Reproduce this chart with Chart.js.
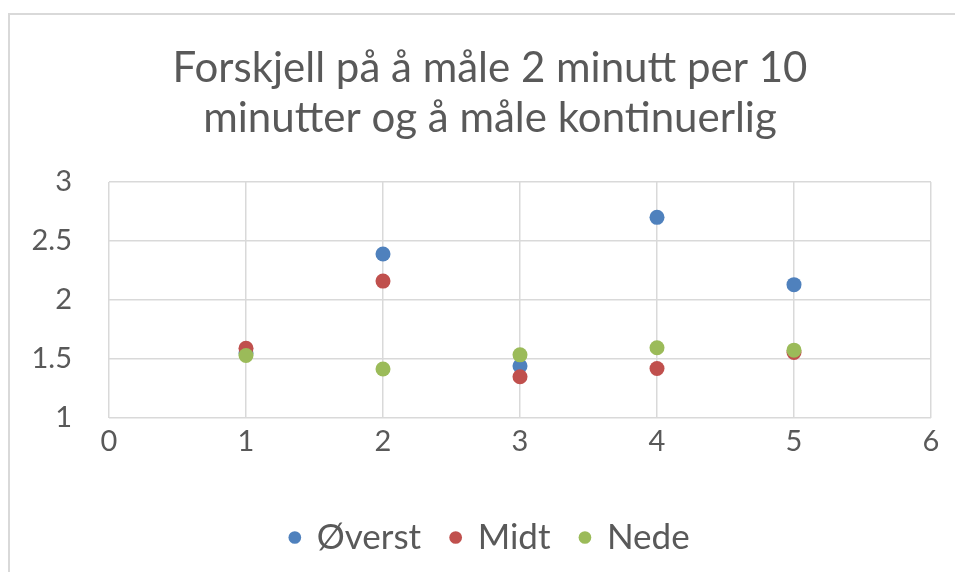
<!DOCTYPE html>
<html>
<head>
<meta charset="utf-8">
<script src="https://cdn.jsdelivr.net/npm/chart.js@4"></script>
<style>
  html, body { margin: 0; padding: 0; overflow: hidden; background: #fff; }
  #wrap { position: relative; width: 980px; height: 572px; }
  #frame { position: absolute; left: 8px; top: 13px; right: -10px; bottom: -10px;
           border-left: 2px solid #d9d9d9; border-top: 2px solid #d9d9d9; }
  canvas { position: absolute; left: 0; top: 0; }
</style>
</head>
<body>
<div id="wrap">
  <div id="frame"></div>
  <canvas id="chart" width="980" height="572"></canvas>
</div>
<script>
// Values
const xValues = [1, 2, 3, 4, 5];
const overst  = [1.55, 2.39, 1.44, 2.70, 2.13];
const midt    = [1.59, 2.16, 1.35, 1.42, 1.555];
const nede    = [1.53, 1.415, 1.535, 1.595, 1.575];
const titleLines = ['Forskjell på å måle 2 minutt per 10', 'minutter og å måle kontinuerlig'];

const FONT = 'Lato, "Open Sans", sans-serif';
const TEXT = '#595959';
const GRID = '#d9d9d9';

function pts(ys) {
  return xValues.map((x, i) => ({ x, y: ys[i] }));
}

const ctx = document.getElementById('chart').getContext('2d');
new Chart(ctx, {
  type: 'scatter',
  data: {
    datasets: [
      { label: 'Øverst', data: pts(overst), backgroundColor: '#4f81bd', borderColor: '#4f81bd', order: 3 },
      { label: 'Midt',   data: pts(midt),   backgroundColor: '#c0504d', borderColor: '#c0504d', order: 2 },
      { label: 'Nede',   data: pts(nede),   backgroundColor: '#9bbb59', borderColor: '#9bbb59', order: 1 },
    ],
  },
  options: {
    responsive: false,
    animation: false,
    layout: { padding: { top: 0, bottom: 7, left: 0, right: 0 } },
    elements: { point: { radius: 7.5, borderWidth: 0, hoverRadius: 7.5 } },
    plugins: {
      title: {
        display: true,
        text: titleLines,
        color: TEXT,
        font: { family: FONT, size: 42, weight: 'normal', lineHeight: 1.19 },
        padding: { top: 43, bottom: 39 },
      },
      legend: {
        position: 'bottom',
        labels: {
          color: TEXT,
          font: { family: FONT, size: 35 },
          usePointStyle: true,
          pointStyle: 'circle',
          boxWidth: 9,
          boxHeight: 9,
          padding: 30,
          sort: (a, b) => a.datasetIndex - b.datasetIndex,
        },
      },
      tooltip: { enabled: false },
    },
    scales: {
      x: {
        type: 'linear',
        min: 0, max: 6,
        ticks: { stepSize: 1, color: TEXT, font: { family: FONT, size: 29 }, padding: 6 },
        grid: { color: GRID, lineWidth: 1.5, tickLength: 0 },
        border: { display: false },
        afterFit: s => { s.height = 72; },
      },
      y: {
        min: 1, max: 3,
        ticks: {
          stepSize: 0.5, color: TEXT, font: { family: FONT, size: 29 }, padding: 37,
          callback: v => String(v),
        },
        grid: { color: GRID, lineWidth: 1.5, tickLength: 0 },
        border: { display: false },
        afterFit: s => { s.width = 109; },
      },
      y2: {
        position: 'right',
        display: true,
        ticks: { display: false },
        grid: { drawOnChartArea: false, tickLength: 0 },
        border: { display: false },
        afterFit: s => { s.width = 49; },
      },
    },
  },
});
</script>
</body>
</html>
